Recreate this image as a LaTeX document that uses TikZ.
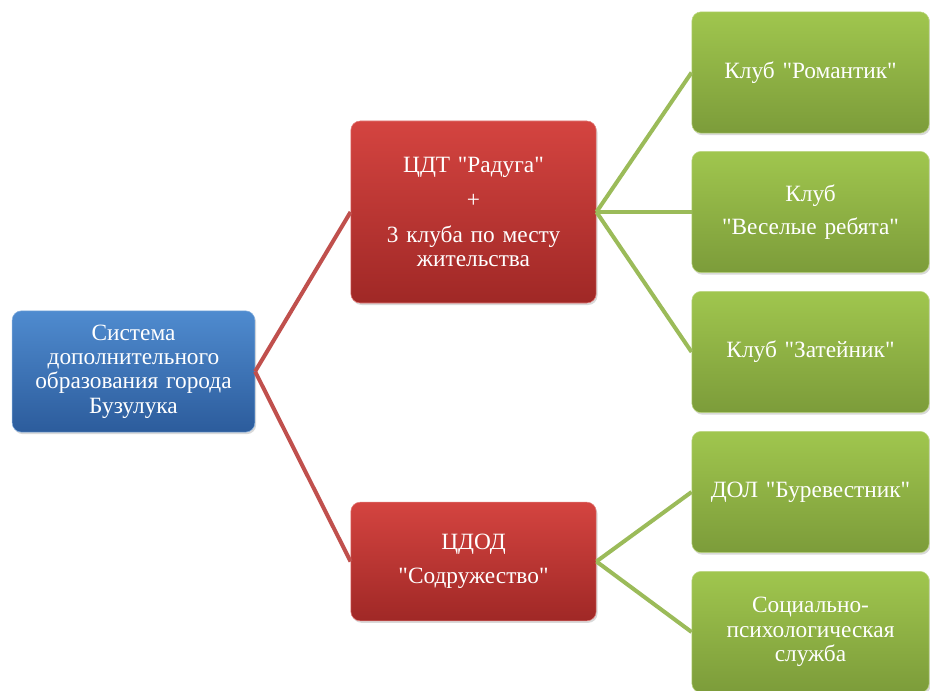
\documentclass[tikz,border=0pt]{standalone}
\usepackage{fontspec}
\setmainfont{Liberation Serif}[Ligatures=TeXOff]
\usetikzlibrary{shadows}
\definecolor{boxblueT}{RGB}{79,139,207}
\definecolor{boxblueB}{RGB}{44,92,156}
\definecolor{boxredT}{RGB}{212,68,64}
\definecolor{boxredB}{RGB}{160,40,38}
\definecolor{boxgreenT}{RGB}{160,198,78}
\definecolor{boxgreenB}{RGB}{124,156,58}
\definecolor{linkred}{RGB}{192,80,77}
\definecolor{linkgreen}{RGB}{155,187,89}
\begin{document}
\begin{tikzpicture}[x=0.75pt, y=-0.75pt,
  box/.style={rounded corners=7pt, align=center, text=white, inner sep=2pt,
    font=\fontsize{17.5}{18.2}\selectfont,
    drop shadow={opacity=0.3, shadow xshift=1pt, shadow yshift=-1.5pt}},
  bluebox/.style={box, top color=boxblueT, bottom color=boxblueB, draw=boxblueT!70!white,
    minimum width=182pt, minimum height=91pt, text width=176pt},
  redbox/.style={box, top color=boxredT, bottom color=boxredB, draw=boxredT!70!white,
    minimum width=184pt, text width=176pt},
  greenbox/.style={box, top color=boxgreenT, bottom color=boxgreenB, draw=boxgreenT!70!white,
    minimum width=178pt, minimum height=91pt, text width=172pt},
  redlink/.style={draw=linkred, line width=3pt},
  greenlink/.style={draw=linkgreen, line width=3pt}]
\useasboundingbox (0,0) rectangle (930,691);

\node[bluebox] (sys) at (133.5,371.5) {Система\\дополнительного\\образования города\\Бузулука};

\node[redbox, minimum height=136.5pt] (cdt) at (473.5,212) {ЦДТ "Радуга"\\[8pt]+\\[8pt]3 клуба по месту\\жительства};
\node[redbox, minimum height=89pt] (cdod) at (473.5,561.5) {ЦДОД\\[7pt]"Содружество"};

\node[greenbox] (rom) at (810.5,72.5) {Клуб "Романтик"};
\node[greenbox] (ves) at (810.5,212) {Клуб\\[7pt]"Веселые ребята"};
\node[greenbox] (zat) at (810.5,352) {Клуб "Затейник"};
\node[greenbox] (bur) at (810.5,492) {ДОЛ "Буревестник"};
\node[greenbox] (soc) at (810.5,632) {Социально-\\психологическая\\служба};

\draw[redlink] (sys.east) -- (cdt.west);
\draw[redlink] (sys.east) -- (cdod.west);
\foreach \club in {rom, ves, zat}
  \draw[greenlink] (cdt.east) -- (\club.west);
\foreach \club in {bur, soc}
  \draw[greenlink] (cdod.east) -- (\club.west);
\end{tikzpicture}
\end{document}
